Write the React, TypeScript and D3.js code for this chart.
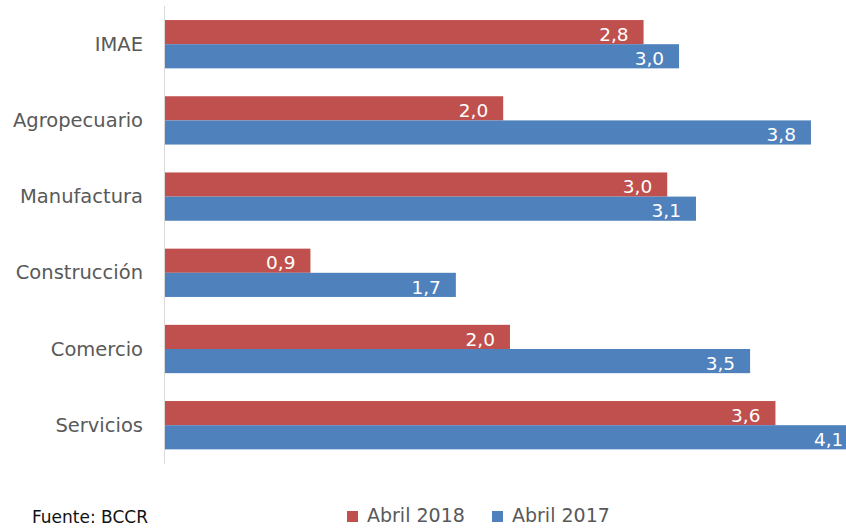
import React from "react";
import * as d3 from "d3";

const categories = ["IMAE", "Agropecuario", "Manufactura", "Construcción", "Comercio", "Servicios"];
const abril2018 = [2.83, 2.0, 2.97, 0.86, 2.04, 3.61];
const abril2017 = [3.04, 3.82, 3.14, 1.72, 3.46, 4.1];
const seriesNames = ["Abril 2018", "Abril 2017"];
const seriesColors = ["#C0504D", "#4F81BD"];
const sourceNote = "Fuente: BCCR";

const W = 846;
const H = 529;

export default function App() {
  const x = d3.scaleLinear().domain([0, 4]).range([165, 165 + 4 * 169.1]);
  const y = d3.scaleBand<string>().domain(categories).range([6.1, 463.3]).paddingInner(0.366).paddingOuter(0.183);
  const sub = d3.scaleBand<number>().domain([0, 1]).range([0, y.bandwidth()]);
  const fmt = (v: number) => d3.format(".1f")(v).replace(".", ",");
  const series = [abril2018, abril2017];

  return (
    <svg width={W} height={H} style={{ position: "fixed", left: 0, top: 0, background: "#fff" }} fontFamily="'DejaVu Sans', sans-serif">
      <rect x={0} y={0} width={W} height={H} fill="#fff" />
      {series.map((vals, si) =>
        vals.map((v, i) => {
          const y0 = (y(categories[i]) as number) + (sub(si) as number);
          const h = sub.bandwidth();
          const xe = x(v);
          const lx = Math.min(xe - 15, W - 2.5);
          return (
            <g key={`${si}-${i}`}>
              <rect x={x(0)} y={y0} width={xe - x(0)} height={h} fill={seriesColors[si]} />
              <text x={lx} y={y0 + h / 2 + 8.7} textAnchor="end" fill="#fff" fontSize={18.5}>
                {fmt(v)}
              </text>
            </g>
          );
        })
      )}
      <line x1={164.5} x2={164.5} y1={6} y2={464} stroke="#D9D9D9" strokeWidth={1} />
      {categories.map((c) => (
        <text key={c} x={143} y={(y(c) as number) + y.bandwidth() / 2 + 6.6} textAnchor="end" fill="#595959" fontSize={19.5}>
          {c}
        </text>
      ))}
      <g>
        {seriesNames.map((n, i) => {
          const lx = [347, 492][i];
          return (
            <g key={n}>
              <rect x={lx} y={511} width={11} height={11} fill={seriesColors[i]} />
              <text x={lx + 20} y={521.7} fill="#595959" fontSize={19}>
                {n}
              </text>
            </g>
          );
        })}
      </g>
      <text x={32} y={523} fill="#111" fontSize={17}>
        {sourceNote}
      </text>
    </svg>
  );
}
